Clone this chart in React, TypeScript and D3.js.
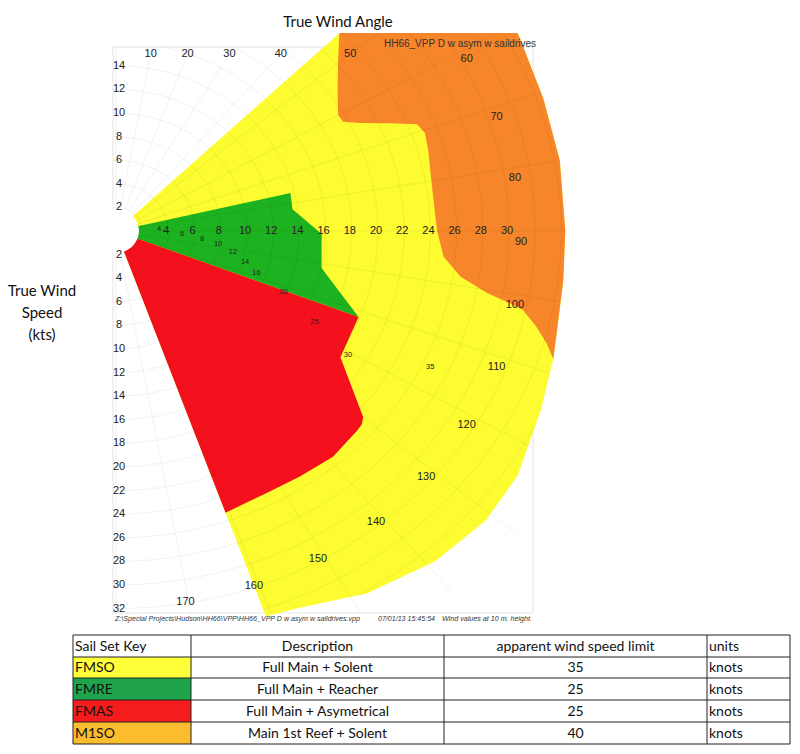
import * as d3 from "d3"

// ---- chart data (polar: [true wind angle in degrees, radius in kts]) ----
const twaLabels = [10, 20, 30, 40, 50, 60, 70, 80, 90, 100, 110, 120, 130, 140, 150, 160, 170]
const ringLabels = [4, 6, 8, 10, 12, 14, 16, 18, 20, 22, 24, 26, 28, 30]
const upperAxisLabels = [2, 4, 6, 8, 10, 12, 14]
const lowerAxisLabels = [2, 4, 6, 8, 10, 12, 14, 16, 18, 20, 22, 24, 26, 28, 30, 32]

// outer limit of the computed area (FMSO background)
const outerEdge: [number, number][] = [
  [45.5, 36.5], [55, 35.5], [62, 34.9], [71, 34.5], [80, 34.4], [90, 34.3], [97, 34.4],
  [104, 34.7], [108, 35.1], [115, 35.8], [124, 37.0], [131, 37.4], [139, 37.1],
  [148, 36.2], [156, 34.9], [160.7, 34.6],
]

// M1SO inner boundary (upper right)
const m1soEdge: [number, number][] = [
  [45.5, 23.9], [49.5, 22.3], [54.8, 20.7], [59.9, 19.6], [61.9, 19.65], [63.8, 20.75],
  [66.4, 22.8], [68.5, 24.7], [70.6, 25.0], [73.9, 24.8], [81.8, 24.4], [89.8, 24.5],
  [95.0, 25.1], [98.4, 26.6], [100.5, 28.8], [101.4, 30.5], [102.2, 31.8], [104.2, 33.1],
  [106.1, 34.2], [108, 35.1],
]

// FMRE (reacher) outline
const fmreEdge: [number, number][] = [
  [0, 0], [76.4, 13.7], [82.2, 13.6], [90.9, 15.7], [101.3, 16.0], [111.5, 19.9],
]

// FMAS (asymmetric) outline
const fmasEdge: [number, number][] = [
  [0, 0], [111.5, 19.9], [122.0, 20.2], [129.9, 24.6], [131.1, 24.9], [132.5, 25.0],
  [139.1, 25.3], [146, 25.1], [152.6, 25.0], [160.7, 25.3],
]

// true wind speed tags on the polar curves
const twsTags = ["4", "6", "8", "10", "12", "14", "16", "20", "25", "30", "35"]
const twsTagPos: [number, number][] = [
  [87, 3.3], [92.8, 5.05], [95.9, 6.6], [98, 7.87], [101.3, 9.1], [105, 10.2],
  [108.3, 11.3], [112, 13.8], [117, 17], [120.7, 20.6], [115.6, 26.6],
]

// sail set key table
const sailKeys = ["FMSO", "FMRE", "FMAS", "M1SO"]
const sailDescriptions = [
  "Full Main + Solent",
  "Full Main + Reacher",
  "Full Main + Asymetrical",
  "Main 1st Reef + Solent",
]
const awsLimits = [35, 25, 25, 40]
const limitUnits = ["knots", "knots", "knots", "knots"]
const tableHeader = ["Sail Set Key", "Description", "apparent wind speed limit", "units"]

const keyColors: Record<string, string> = {
  FMSO: "#ffff3a",
  FMRE: "#1fa44c",
  FMAS: "#f41c1c",
  M1SO: "#fbbd2e",
}

// ---- geometry ----
const cx = 116
const cy = 231
const kx = 13.1
const ky = 11.8

const xs = d3.scaleLinear().domain([0, 40]).range([cx, cx + 40 * kx])
const ys = d3.scaleLinear().domain([0, 40]).range([cy, cy - 40 * ky])

const rad = (a: number) => (a * Math.PI) / 180
const polar = ([a, r]: [number, number]): [number, number] => [
  xs(r * Math.sin(rad(a))),
  ys(r * Math.cos(rad(a))),
]
const lineGen = d3.line<[number, number]>()
const shape = (pts: [number, number][]) => lineGen(pts.map(polar)) + "Z"

const fmsoPath = shape([[45.5, 0], ...outerEdge])
const m1soPath = shape([...m1soEdge, ...outerEdge.filter((d) => d[0] < 108).reverse()])
const fmrePath = shape(fmreEdge)
const fmasPath = shape(fmasEdge)

const box = { x: 113, y: 47, w: 420, h: 566 }
const ringValues = d3.range(2, 33, 2)
const ringValuesColored = d3.range(2, 40, 2)
const radialAngles = d3.range(0, 181, 10)

const font = "'Liberation Sans', Arial, sans-serif"
const calibri = "Lato, 'Open Sans', sans-serif"

function Grid({ rings, stroke, opacity }: { rings: number[]; stroke: string; opacity: number }) {
  return (
    <g stroke={stroke} strokeOpacity={opacity} fill="none" strokeWidth={0.8}>
      {rings.map((r) => (
        <ellipse key={"r" + r} cx={cx} cy={cy} rx={xs(r) - cx} ry={cy - ys(r)} />
      ))}
      {radialAngles.map((a) => {
        const [x1, y1] = polar([a, 2])
        const [x2, y2] = polar([a, 40])
        return <line key={"a" + a} x1={x1} y1={y1} x2={x2} y2={y2} />
      })}
    </g>
  )
}

function SailTable() {
  const cols = [73, 191, 444, 707, 790]
  const rows = [635, 657, 678, 700, 722, 744]
  const fs = 14
  const cells: JSX.Element[] = []
  const textRow = (i: number) => (rows[i] + rows[i + 1]) / 2 + 1
  tableHeader.forEach((h, c) => {
    const anchor = c === 0 || c === 3 ? "start" : "middle"
    const x = anchor === "start" ? cols[c] + 2 : (cols[c] + cols[c + 1]) / 2
    cells.push(
      <text key={"h" + c} x={x} y={textRow(0)} textAnchor={anchor} dominantBaseline="middle" fontSize={fs}>
        {h}
      </text>,
    )
  })
  sailKeys.forEach((k, i) => {
    const r = i + 1
    cells.push(
      <rect key={"bg" + k} x={cols[0]} y={rows[r]} width={cols[1] - cols[0]} height={rows[r + 1] - rows[r]} fill={keyColors[k]} />,
    )
    cells.push(
      <text key={"k" + k} x={cols[0] + 2} y={textRow(r)} dominantBaseline="middle" fontSize={fs}>
        {k}
      </text>,
    )
    cells.push(
      <text key={"d" + k} x={(cols[1] + cols[2]) / 2} y={textRow(r)} textAnchor="middle" dominantBaseline="middle" fontSize={fs}>
        {sailDescriptions[i]}
      </text>,
    )
    cells.push(
      <text key={"l" + k} x={(cols[2] + cols[3]) / 2} y={textRow(r)} textAnchor="middle" dominantBaseline="middle" fontSize={fs}>
        {awsLimits[i]}
      </text>,
    )
    cells.push(
      <text key={"u" + k} x={cols[3] + 2} y={textRow(r)} dominantBaseline="middle" fontSize={fs}>
        {limitUnits[i]}
      </text>,
    )
  })
  return (
    <g fontFamily={calibri} fill="#111">
      {cells}
      <g stroke="#222" strokeWidth={1} fill="none">
        {rows.map((y) => (
          <line key={"hy" + y} x1={cols[0]} x2={cols[4]} y1={y} y2={y} />
        ))}
        {cols.map((x) => (
          <line key={"vx" + x} x1={x} x2={x} y1={rows[0]} y2={rows[rows.length - 1]} />
        ))}
      </g>
    </g>
  )
}

export default function App() {
  const topV = ys.invert(54)
  return (
    <div style={{ position: "absolute", left: 0, top: 0 }}>
      <svg width={800} height={754} style={{ display: "block", background: "#fff" }}>
        <defs>
          <clipPath id="boxClip">
            <rect x={box.x} y={box.y} width={box.w} height={box.h} />
          </clipPath>
          <clipPath id="topClip">
            <rect x={0} y={33} width={800} height={620} />
          </clipPath>
          <clipPath id="fillClip">
            <path d={fmsoPath} />
          </clipPath>
        </defs>

        <rect x={box.x} y={box.y} width={box.w} height={box.h} fill="#fff" stroke="#e4e4e4" />
        <g clipPath="url(#boxClip)">
          <Grid rings={ringValues} stroke="#000" opacity={0.07} />
        </g>

        <g clipPath="url(#topClip)">
          <path d={fmsoPath} fill="#fcfc31" />
          <path d={m1soPath} fill="#f7852a" />
          <path d={fmrePath} fill="#1db21f" />
          <path d={fmasPath} fill="#f4101c" />
          <g clipPath="url(#fillClip)">
            <Grid rings={ringValuesColored} stroke="#3a3a00" opacity={0.09} />
          </g>
        </g>

        <ellipse cx={cx} cy={cy} rx={1.75 * kx} ry={1.85 * ky} fill="#fff" />

        {/* titles */}
        <text x={338} y={27} textAnchor="middle" fontFamily={calibri} fontSize={15} fill="#111">
          True Wind Angle
        </text>
        <g fontFamily={calibri} fontSize={15} fill="#111" textAnchor="middle">
          <text x={42} y={296}>True Wind</text>
          <text x={42} y={318}>Speed</text>
          <text x={42} y={340}>(kts)</text>
        </g>
        <text x={460} y={47} textAnchor="middle" fontFamily={font} fontSize={10} fill="#333">
          HH66_VPP D w asym w saildrives
        </text>

        {/* angle labels */}
        <g fontFamily={font} fontSize={11} fill="#222" textAnchor="middle" dominantBaseline="middle">
          {twaLabels.map((a) => {
            if (a <= 50) {
              return (
                <text key={"twa" + a} x={xs(topV * Math.tan(rad(a)))} y={54}>
                  {a}
                </text>
              )
            }
            const [x, y] = polar([a, 31])
            return (
              <text key={"twa" + a} x={x - 1} y={y + 11}>
                {a}
              </text>
            )
          })}
        </g>

        {/* ring labels along the horizontal */}
        <g fontFamily={font} fontSize={11} fill="#222" textAnchor="middle" dominantBaseline="middle">
          {ringLabels.map((v) => (
            <text key={"rl" + v} x={xs(v) - 2} y={cy}>
              {v}
            </text>
          ))}
        </g>

        {/* left axis labels */}
        <g fontFamily={font} fontSize={11} fill="#222" textAnchor="middle" dominantBaseline="middle">
          {upperAxisLabels.map((v) => (
            <text key={"u" + v} x={119} y={ys(v)}>
              {v}
            </text>
          ))}
          {lowerAxisLabels.map((v) => (
            <text key={"d" + v} x={119} y={ys(-v)}>
              {v}
            </text>
          ))}
        </g>

        {/* tws tags */}
        <g fontFamily={font} fontSize={7.5} fill="#222" textAnchor="middle" dominantBaseline="middle">
          {twsTags.map((t, i) => {
            const [x, y] = polar(twsTagPos[i])
            return (
              <text key={"tw" + t} x={x} y={y}>
                {t}
              </text>
            )
          })}
        </g>

        {/* footer */}
        <g fontFamily={font} fontSize={7.5} fontStyle="italic" fill="#333">
          <text x={115} y={621} textLength={245} lengthAdjust="spacingAndGlyphs">
            Z:\Special Projects\Hudson\HH66\VPP\HH66_VPP D w asym w saildrives.vpp
          </text>
          <text x={378} y={621} textLength={57} lengthAdjust="spacingAndGlyphs">
            07/01/13 15:45:54
          </text>
          <text x={442} y={621} textLength={90} lengthAdjust="spacingAndGlyphs">
            Wind values at 10 m. height.
          </text>
        </g>

        <SailTable />
      </svg>
    </div>
  )
}
